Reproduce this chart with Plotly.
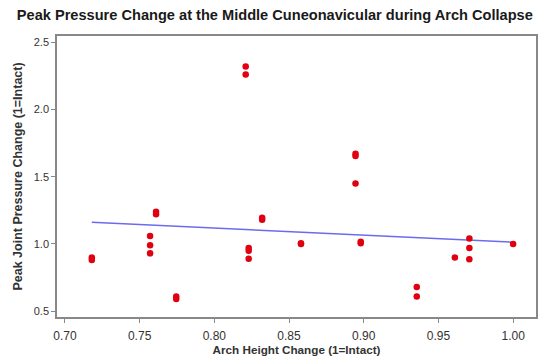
import plotly.graph_objects as go

arch_height = [0.718, 0.718,
               0.757, 0.757, 0.757,
               0.761, 0.761,
               0.7745, 0.7745,
               0.821, 0.821,
               0.823, 0.823, 0.823,
               0.832, 0.832,
               0.858, 0.858,
               0.8945, 0.8945, 0.8945,
               0.898, 0.898,
               0.9355, 0.9355,
               0.961,
               0.9707, 0.9707, 0.9707,
               1.00]
peak_pressure = [0.90, 0.88,
                 1.06, 0.99, 0.93,
                 1.24, 1.22,
                 0.61, 0.59,
                 2.32, 2.26,
                 0.97, 0.95, 0.89,
                 1.195, 1.18,
                 1.005, 1.00,
                 1.67, 1.654, 1.45,
                 1.017, 1.005,
                 0.68, 0.61,
                 0.90,
                 1.04, 0.97, 0.886,
                 1.00]

fit_x = [0.718, 1.00]
fit_y = [1.161, 1.013]

x_ticks = [0.70, 0.75, 0.80, 0.85, 0.90, 0.95, 1.00]
x_tick_labels = ["0.70", "0.75", "0.80", "0.85", "0.90", "0.95", "1.00"]
y_ticks = [0.5, 1.0, 1.5, 2.0, 2.5]
y_tick_labels = ["0.5", "1.0", "1.5", "2.0", "2.5"]

fig = go.Figure()
fig.add_trace(go.Scatter(x=fit_x, y=fit_y, mode="lines",
                         line=dict(color="#6b6bef", width=1.5), showlegend=False))
fig.add_trace(go.Scatter(x=arch_height, y=peak_pressure, mode="markers",
                         marker=dict(color="#e00010", size=6.5, line=dict(width=0)),
                         showlegend=False))

axis_common = dict(showline=True, linecolor="#888888", linewidth=1.5, mirror=True,
                   ticks="outside", ticklen=4, tickcolor="#888888", tickwidth=1,
                   showgrid=False, zeroline=False)

fig.update_layout(
    width=542, height=361,
    margin=dict(l=57, r=4, t=36, b=44),
    paper_bgcolor="white", plot_bgcolor="white",
    title=dict(text="<b>Peak Pressure Change at the Middle Cuneonavicular during Arch Collapse</b>",
               x=0.031, xanchor="left", y=0.958, yanchor="middle",
               font=dict(family="Liberation Sans", size=14.6, color="#1a1a1a")),
    xaxis=dict(range=[0.6947, 1.0153], tickvals=x_ticks, ticktext=x_tick_labels,
               ticklabelstandoff=3,
               tickfont=dict(family="Liberation Sans", size=12, color="#333333"),
               title=dict(text="<b>Arch Height Change (1=Intact)</b>", standoff=3,
                          font=dict(family="Liberation Sans", size=11.7, color="#333333")),
               **axis_common),
    yaxis=dict(range=[0.457, 2.546], tickvals=y_ticks, ticktext=y_tick_labels,
               tickfont=dict(family="Liberation Sans", size=11, color="#333333"),
               title=dict(text="<b>Peak Joint Pressure Change (1=Intact)</b>", standoff=8,
                          font=dict(family="Liberation Sans", size=12.5, color="#333333")),
               **axis_common),
)

fig.write_html("out.html")
